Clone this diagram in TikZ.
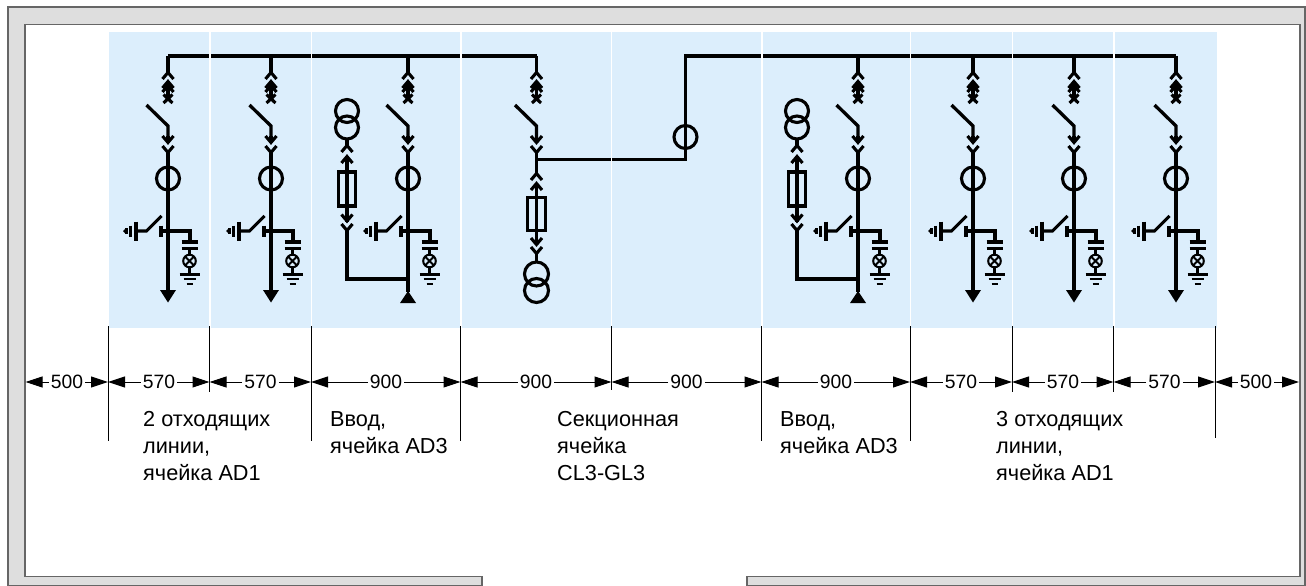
\documentclass[tikz,border=0pt]{standalone}
\usepackage{fontspec}
\setmainfont{Liberation Sans}
\usetikzlibrary{arrows.meta}
\definecolor{panelgrey}{HTML}{DEDEDE}
\definecolor{edgegrey}{HTML}{666666}
\definecolor{cellblue}{HTML}{DCEEFC}
\tikzset{
  wire/.style={line width=3.3pt,draw=black,line cap=butt,line join=miter},
  sym/.style={line width=3.1pt,draw=black},
  dimline/.style={line width=1pt,draw=black},
  dimarrow/.style={line width=1pt,draw=black,-{Triangle[length=17pt,width=11pt]}},
  dimtext/.style={font=\fontsize{19.3}{22}\selectfont,inner sep=2pt},
  celltext/.style={font=\fontsize{21.7}{27.3}\selectfont,align=left,anchor=north west,inner sep=0pt},
}
% all macros: #1 = x of the stem, #2 = y
\newcommand{\chevup}[2]{\draw[sym] (#1-5.5,#2+8) -- (#1,#2+1.5) -- (#1+5.5,#2+8);}
\newcommand{\chevdown}[2]{\draw[sym] (#1-5.5,#2-8) -- (#1,#2-1.5) -- (#1+5.5,#2-8);}
\newcommand{\tipup}[2]{\draw[sym] (#1-5.5,#2+8) -- (#1,#2+1.5) -- (#1+5.5,#2+8); \draw[wire] (#1,#2+1) -- (#1,#2+8);}
\newcommand{\tipdown}[2]{\draw[sym] (#1-5.5,#2-8) -- (#1,#2-1.5) -- (#1+5.5,#2-8); \draw[wire] (#1,#2-1) -- (#1,#2-8);}
% withdrawable isolator and breaker on a stem, from the bus to the V under the switch
\newcommand{\headgear}{
  \draw[wire] (0,56) -- (0,73);
  \chevup{0}{71}
  \draw[wire] (0,82) -- (0,99);
  \tipup{0}{80}
  \draw[sym] (-5.5,92) -- (0,85.5) -- (5.5,92);
  \draw[sym] (-4.5,94.5) -- (4.5,103) (-4.5,103) -- (4.5,94.5);
  \draw[wire] (-21.5,105) -- (0,126) -- (0,142);
  \tipdown{0}{144}
  \chevdown{0}{154}
}
\newcommand{\earthgear}{
  \draw[wire] (-7,225.5) -- (-7,236.5);
  \draw[wire] (-7,231) -- (22,231) -- (22,241);
  \draw[sym] (-6.5,216) -- (-21.5,231) -- (-32,231);
  \draw[sym] (-32,221.5) -- (-32,240.5);
  \draw[sym] (-37.5,225.5) -- (-37.5,236.5);
  \draw[line width=2.2pt] (-41.5,228) -- (-41.5,234);
  \fill (-45,231) -- (-42.5,228.5) -- (-42.5,233.5) -- cycle;
  \draw[sym] (13.5,242) -- (30,242) (13.5,248.5) -- (30,248.5);
  \draw[sym] (21.5,248.5) -- (21.5,255) (21.5,267) -- (21.5,274);
  \draw[line width=2pt] (21.5,261) circle (6.3)
     (17.3,256.8) -- (25.7,265.2) (17.3,265.2) -- (25.7,256.8);
  \draw[sym] (11.5,274.5) -- (31.5,274.5);
  \draw[line width=2.2pt] (15.5,279.3) -- (27.5,279.3);
  \draw[line width=2pt] (18.5,284) -- (24.5,284);
}
\newcommand{\ctcircle}[2]{\draw[sym] (#1,#2) circle (11.5);}
\newcommand{\outgoing}{
  \headgear
  \draw[wire] (0,153) -- (0,292);
  \ctcircle{0}{178.5}
  \earthgear
  \fill (-8,290) -- (8,290) -- (0,302.5) -- cycle;
}
% incoming cell: main stem at 0, voltage transformer branch at -61
\newcommand{\incoming}{
  \headgear
  \draw[wire] (0,153) -- (0,292);
  \ctcircle{0}{178.5}
  \earthgear
  \fill (-8,303) -- (8,303) -- (0,291) -- cycle;
  \draw[sym] (-61,111) circle (11.5) (-61,127.5) circle (11.5);
  \draw[wire] (-61,139) -- (-61,146);
  \chevup{-61}{144}
  \tipup{-61}{155}
  \draw[wire] (-61,162) -- (-61,215);
  \draw[sym] (-69.5,172) rectangle (-52.5,206);
  \tipdown{-61}{222.5}
  \chevdown{-61}{232}
  \draw[wire] (-61,231) -- (-61,279) -- (0,279);
}
\begin{document}
\begin{tikzpicture}[x=1pt,y=-1pt]
\useasboundingbox (0,0) rectangle (1306,586);
% frame
\fill[white] (0,0) rectangle (1306,586);
\draw[fill=panelgrey,draw=edgegrey,line width=1.3pt] (8,7) -- (1305,7) -- (1305,586) -- (8,586) -- cycle;
\draw[fill=white,draw=edgegrey,line width=1.5pt] (25,24.5) -- (1300,24.5) -- (1300,576.5) -- (747,576.5) -- (747,590) -- (482,590) -- (482,576.5) -- (25,576.5) -- cycle;
\clip (0,0) rectangle (1306,586);
% cells
\fill[cellblue] (109,32) rectangle (1217,328);
% bus bars
\draw[wire] (168,56) -- (536.5,56);
\draw[wire] (685.5,137) -- (685.5,56) -- (1176,56);
% outgoing cells
\foreach \xx in {168,271,973,1074,1176}{
  \begin{scope}[shift={(\xx,0)}]\outgoing\end{scope}
}
% incoming cells
\foreach \xx in {408,858}{
  \begin{scope}[shift={(\xx,0)}]\incoming\end{scope}
}
% section cell
\begin{scope}[shift={(536.5,0)}]
  \headgear
  \draw[wire] (0,153) -- (0,175);
  \draw[wire] (0,159.5) -- (149,159.5) -- (149,137);
  \chevup{0}{172}
  \tipup{0}{182}
  \draw[wire] (0,189) -- (0,238);
  \draw[sym] (-9,197.5) rectangle (9,230.5);
  \tipdown{0}{246}
  \chevdown{0}{255}
  \draw[wire] (0,254) -- (0,262);
  \draw[sym] (0,274) circle (12) (0,290.5) circle (12);
\end{scope}
\ctcircle{685.5}{137}
% white cell separators
\foreach \xx in {210,311.5,461,611.5,762,910.5,1012.5,1114}{
  \draw[white,line width=1.6pt] (\xx,32) -- (\xx,328);
}
% dimension ticks
\foreach \nm/\xx/\yy in {a/108/441,b/209.5/392,c/311/441,d/460.5/441,e/611.5/390,f/761.5/441,g/910/441,h/1012/392,i/1113.5/392,j/1215/438}{
  \coordinate (top\nm) at (\xx,326);
  \coordinate (bot\nm) at (\xx,\yy);
  \coordinate (dim\nm) at (\xx,382);
  \draw[dimline] (top\nm) -- (bot\nm);
}
\coordinate (dimL) at (25.5,382);
\coordinate (dimR) at (1299,382);
% dimensions
\foreach \nm/\lab/\cx/\ll/\rr in {
  p/500/67/L/a, q/570/159/a/b, r/570/260.5/b/c, s/900/386/c/d, t/900/536/d/e,
  u/900/686.5/e/f, v/900/836/f/g, w/570/961/g/h, x/570/1063/h/i, y/570/1164.5/i/j, z/500/1256/j/R}{
  \node[dimtext] (lab\nm) at (\cx,382) {\lab};
  \draw[dimarrow] (lab\nm) -- (dim\ll);
  \draw[dimarrow] (lab\nm) -- (dim\rr);
}
% cell captions
\node[celltext] (cap1) at (143,411) {2 отходящих\\линии,\\ячейка AD1};
\node[celltext] (cap2) at (330,411) {Ввод,\\ячейка AD3};
\node[celltext] (cap3) at (557,411) {Секционная\\ячейка\\CL3-GL3};
\node[celltext] (cap4) at (780,411) {Ввод,\\ячейка AD3};
\node[celltext] (cap5) at (996,411) {3 отходящих\\линии,\\ячейка AD1};
\end{tikzpicture}
\end{document}
